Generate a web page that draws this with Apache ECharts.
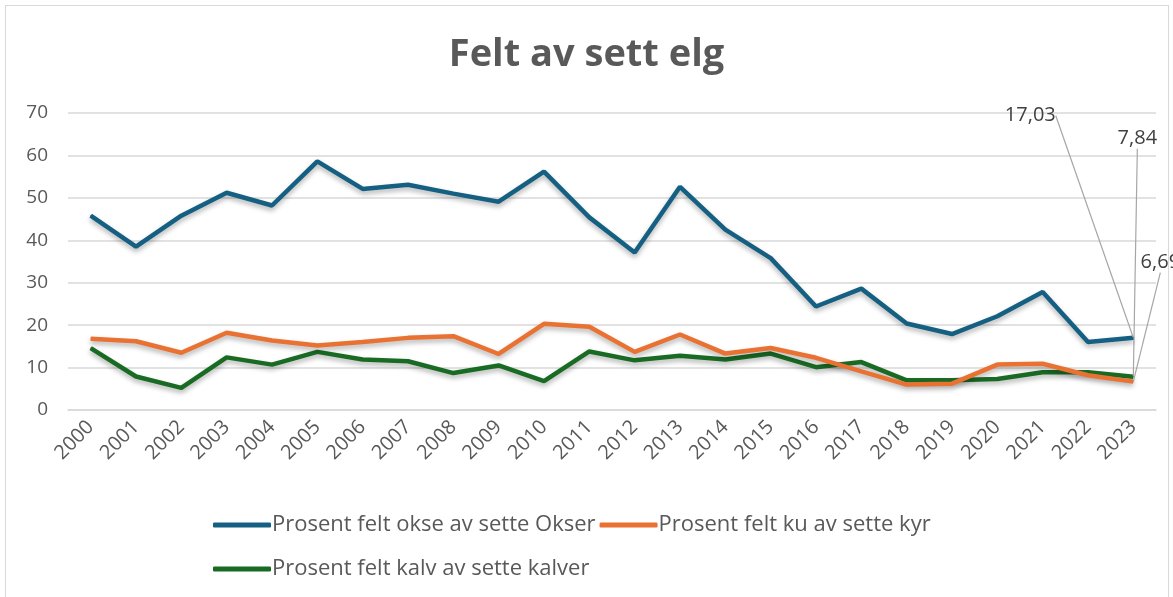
<!DOCTYPE html>
<html>
<head>
<meta charset="utf-8">
<script src="https://cdn.jsdelivr.net/npm/echarts@6/dist/echarts.min.js"></script>
<style>
  html, body { margin: 0; padding: 0; background: #fff; }
  #frame { position: absolute; left: 5px; top: 5px; width: 1162px; height: 600px; border: 1px solid #d9d9d9; }
  #chart { position: absolute; left: 0; top: 0; width: 1173px; height: 597px; }
</style>
</head>
<body>
<div id="frame"></div>
<div id="chart"></div>
<script>
const years = ['2000', '2001', '2002', '2003', '2004', '2005', '2006', '2007', '2008', '2009', '2010', '2011',
  '2012', '2013', '2014', '2015', '2016', '2017', '2018', '2019', '2020', '2021', '2022', '2023']

const okser = [45.8, 38.5, 45.8, 51.2, 48.2, 58.6, 52.1, 53.1, 51.0, 49.1, 56.2, 45.4,
  37.1, 52.6, 42.5, 35.8, 24.4, 28.6, 20.4, 17.9, 22.1, 27.8, 16.0, 17.03]
const kyr = [16.8, 16.2, 13.5, 18.2, 16.4, 15.2, 16.0, 17.0, 17.4, 13.2, 20.3, 19.6,
  13.7, 17.8, 13.3, 14.6, 12.3, 9.1, 6.0, 6.2, 10.7, 10.9, 8.2, 6.69]
const kalver = [14.6, 7.9, 5.2, 12.4, 10.7, 13.7, 11.9, 11.5, 8.7, 10.5, 6.8, 13.8,
  11.7, 12.8, 11.9, 13.3, 10.1, 11.3, 7.0, 7.0, 7.3, 8.9, 8.9, 7.84]

const names = ['Prosent felt okse av sette Okser', 'Prosent felt ku av sette kyr', 'Prosent felt kalv av sette kalver']
const colors = ['#156082', '#e97132', '#196b24']
// offset of the end label from its point
const labelShift = [[-103, -222], [27, -119], [4, -238]]

const fontFamily = '"Open Sans", "Noto Sans", sans-serif'

function makeSeries(i, values) {
  const last = values.length - 1
  return {
    name: names[i],
    type: 'line',
    symbol: 'circle',
    symbolSize: 1,
    showSymbol: true,
    z: 3 - i,
    lineStyle: {
      width: 4.5,
      color: colors[i],
      shadowColor: 'rgba(0,0,0,0.3)',
      shadowBlur: 5,
      shadowOffsetY: 3
    },
    itemStyle: { color: colors[i] },
    label: { show: false },
    labelLine: {
      show: true,
      lineStyle: { color: '#a6a6a6', width: 1.2 }
    },
    labelLayout: (p) => p.dataIndex === last ? { dx: labelShift[i][0], dy: labelShift[i][1] } : {},
    emphasis: { disabled: true },
    data: values.map((v, k) => k === last ? {
      value: v,
      label: {
        show: true,
        position: 'inside',
        formatter: () => v.toFixed(2).replace('.', ','),
        color: '#404040',
        fontSize: 20,
        fontFamily
      }
    } : v)
  }
}

const chart = echarts.init(document.getElementById('chart'))

chart.setOption({
  animation: false,
  title: {
    text: 'Felt av sett elg',
    left: 'center',
    top: 31,
    textStyle: { color: '#595959', fontSize: 38, fontWeight: 'bold', fontFamily }
  },
  legend: {
    left: 208,
    top: 500,
    width: 820,
    itemGap: 4,
    itemWidth: 58,
    itemHeight: 5,
    icon: 'roundRect',
    textStyle: { color: '#595959', fontSize: 22, fontFamily, lineHeight: 40, padding: [0, 0, 0, -4] },
    data: names
  },
  grid: {
    left: 68,
    right: 17,
    top: 113,
    bottom: 187,
    containLabel: false,
    outerBoundsMode: 'none'
  },
  xAxis: {
    type: 'category',
    data: years,
    boundaryGap: true,
    axisLine: { lineStyle: { color: '#d9d9d9', width: 1.5 } },
    axisTick: { show: false },
    axisLabel: { rotate: 45, color: '#595959', fontSize: 20, fontFamily, margin: 14, interval: 0 }
  },
  yAxis: {
    type: 'value',
    min: 0,
    max: 70,
    interval: 10,
    axisLine: { show: false },
    axisTick: { show: false },
    splitLine: { lineStyle: { color: '#d9d9d9', width: 1.5 } },
    axisLabel: { color: '#595959', fontSize: 19, fontFamily, margin: 20 }
  },
  series: [makeSeries(0, okser), makeSeries(1, kyr), makeSeries(2, kalver)]
})
</script>
</body>
</html>
